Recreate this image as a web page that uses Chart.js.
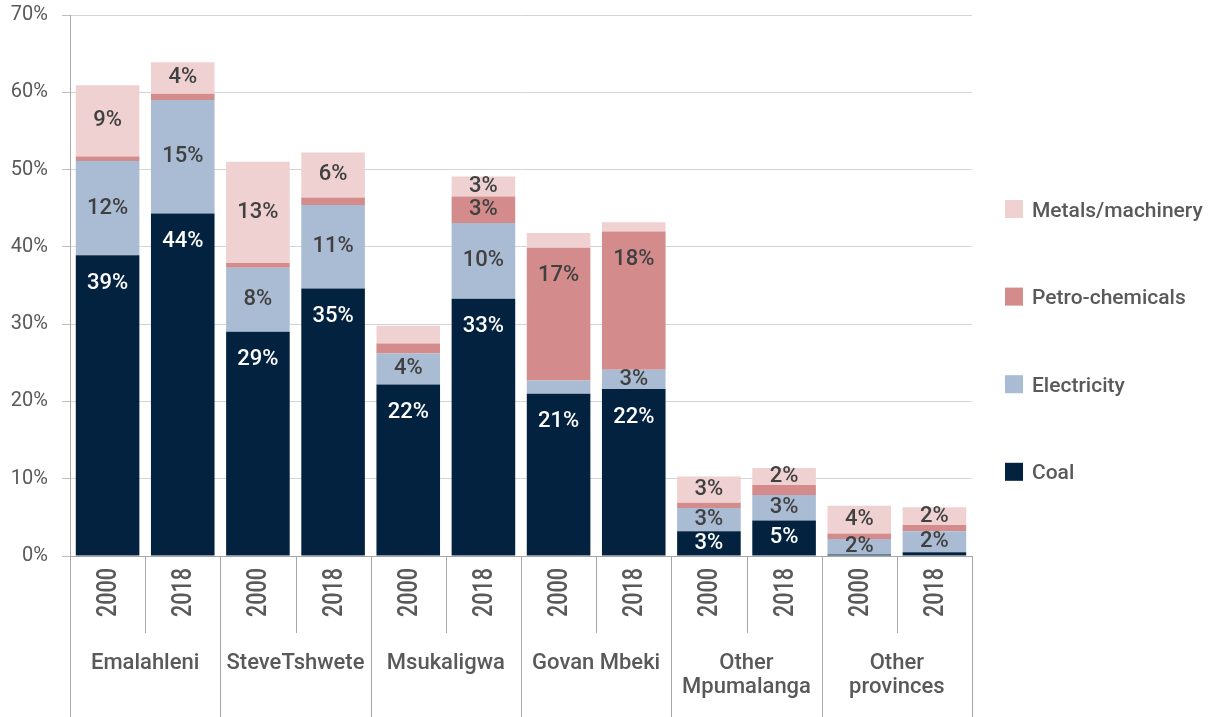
<!DOCTYPE html>
<html>
<head>
<meta charset="utf-8">
<script src="https://cdn.jsdelivr.net/npm/chart.js@4.4.1/dist/chart.umd.min.js"></script>
<style>
  html, body { margin: 0; padding: 0; background: #fff; }
  #wrap { width: 1217px; height: 717px; position: relative; }
</style>
</head>
<body>
<div id="wrap"><canvas id="chart"></canvas></div>
<script>
// categories
const years = ['2000', '2018', '2000', '2018', '2000', '2018', '2000', '2018', '2000', '2018', '2000', '2018'];
const groups = [['Emalahleni'], ['SteveTshwete'], ['Msukaligwa'], ['Govan Mbeki'], ['Other', 'Mpumalanga'], ['Other', 'provinces']];

// series values (% share)
const coal        = [38.9, 44.3, 29.0, 34.6, 22.2, 33.3, 21.0, 21.6, 3.2, 4.6, 0.2, 0.5];
const electricity = [12.2, 14.7,  8.3, 10.8,  4.0,  9.8,  1.7,  2.5, 3.0, 3.3, 2.0, 2.7];
const petro       = [ 0.6,  0.8,  0.6,  1.0,  1.3,  3.4, 17.2, 17.9, 0.7, 1.3, 0.7, 0.8];
const metals      = [ 9.2,  4.1, 13.1,  5.8,  2.3,  2.6,  1.9,  1.2, 3.4, 2.2, 3.6, 2.3];

// value labels as printed on the bars ('' = none)
const coalLabels   = ['39%', '44%', '29%', '35%', '22%', '33%', '21%', '22%', '3%', '5%', '', ''];
const elecLabels   = ['12%', '15%', '8%', '11%', '4%', '10%', '', '3%', '3%', '3%', '2%', '2%'];
const petroLabels  = ['', '', '', '', '', '3%', '17%', '18%', '', '', '', ''];
const metalsLabels = ['9%', '4%', '13%', '6%', '', '3%', '', '', '3%', '2%', '4%', '2%'];

// y axis
const yMin = 0, yMax = 70, yStep = 10;

const FONT = 'Roboto, "Open Sans", sans-serif';
const GRAY = '#595959';
const LINE = '#a6a6a6';

const segmentLabels = {
    id: 'segmentLabels',
    afterDatasetsDraw(chart) {
        const ctx = chart.ctx;
        ctx.save();
        ctx.font = '500 22px ' + FONT;
        ctx.textAlign = 'center';
        ctx.textBaseline = 'middle';
        chart.data.datasets.forEach((ds, i) => {
            const meta = chart.getDatasetMeta(i);
            meta.data.forEach((bar, j) => {
                const txt = ds.valueLabels[j];
                if (!txt) return;
                const h = bar.base - bar.y;
                let y = (bar.y + bar.base) / 2;
                // tall coal / petro segments carry their label near the top
                if (ds.topLabel && h > 80) y = bar.y + 28;
                ctx.fillStyle = ds.labelColor;
                ctx.fillText(txt, bar.x, y);
            });
        });
        ctx.restore();
    }
};

const xAxisDecor = {
    id: 'xAxisDecor',
    afterDraw(chart) {
        const ctx = chart.ctx;
        const xs = chart.scales.x;
        const n = years.length;
        const step = xs.width / n;
        const top = xs.top;
        const H = chart.height;
        ctx.save();

        // separators: short between years, full height between groups
        ctx.strokeStyle = LINE;
        ctx.lineWidth = 1;
        for (let k = 0; k <= n; k++) {
            const x = Math.round(xs.left + k * step) + 0.5;
            ctx.beginPath();
            ctx.moveTo(x, top);
            ctx.lineTo(x, k % 2 === 0 ? H : top + 77);
            ctx.stroke();
        }

        // rotated year labels
        ctx.fillStyle = GRAY;
        ctx.font = '500 27px ' + FONT;
        ctx.textAlign = 'center';
        ctx.textBaseline = 'alphabetic';
        years.forEach((yr, i) => {
            const cx = xs.getPixelForValue(i);
            ctx.save();
            ctx.translate(cx + 8.5, top + 36.5);
            ctx.rotate(-Math.PI / 2);
            ctx.scale(0.8, 1);
            ctx.fillText(yr, 0, 0);
            ctx.restore();
        });

        // group labels
        ctx.font = '500 22px ' + FONT;
        groups.forEach((lines, g) => {
            const cx = (xs.getPixelForValue(2 * g) + xs.getPixelForValue(2 * g + 1)) / 2;
            lines.forEach((t, k) => {
                ctx.fillText(t, cx, top + 113 + k * 24);
            });
        });
        ctx.restore();
    }
};

const sideLegend = {
    id: 'sideLegend',
    afterDraw(chart) {
        const ctx = chart.ctx;
        const items = chart.data.datasets.slice().reverse();
        const x0 = chart.chartArea.right + 33;
        const y0 = 209, gap = 87.6, box = 18;
        ctx.save();
        ctx.font = '500 21px ' + FONT;
        ctx.textAlign = 'left';
        ctx.textBaseline = 'alphabetic';
        items.forEach((ds, k) => {
            const cy = y0 + k * gap;
            ctx.fillStyle = ds.backgroundColor;
            ctx.fillRect(x0, cy - box / 2, box, box);
            ctx.fillStyle = GRAY;
            ctx.fillText(ds.label, x0 + 27, cy + 7.6);
        });
        ctx.restore();
    }
};

const ctx = document.getElementById('chart').getContext('2d');

new Chart(ctx, {
    type: 'bar',
    data: {
        labels: years,
        datasets: [
            { label: 'Coal', data: coal, backgroundColor: '#03223f', valueLabels: coalLabels, labelColor: '#ffffff', topLabel: true },
            { label: 'Electricity', data: electricity, backgroundColor: '#aabbd4', valueLabels: elecLabels, labelColor: '#404040' },
            { label: 'Petro-chemicals', data: petro, backgroundColor: '#d38c8b', valueLabels: petroLabels, labelColor: '#404040', topLabel: true },
            { label: 'Metals/machinery', data: metals, backgroundColor: '#efd1d2', valueLabels: metalsLabels, labelColor: '#404040' }
        ]
    },
    options: {
        responsive: true,
        maintainAspectRatio: false,
        animation: false,
        layout: { padding: { left: 0, right: 245, top: 15, bottom: 0 } },
        datasets: {
            bar: { barPercentage: 0.846, categoryPercentage: 1, borderWidth: 0 }
        },
        plugins: {
            legend: { display: false },
            tooltip: { enabled: false }
        },
        scales: {
            x: {
                stacked: true,
                grid: { display: false },
                border: { display: true, color: LINE, width: 1 },
                ticks: { display: false },
                afterFit: s => { s.height = 161; }
            },
            y: {
                stacked: true,
                min: yMin,
                max: yMax,
                ticks: {
                    stepSize: yStep,
                    color: GRAY,
                    font: { family: FONT, size: 20 },
                    padding: 14,
                    callback: v => v + '%'
                },
                grid: { color: '#d4d4d4', lineWidth: 1, tickLength: 8, tickColor: '#bfbfbf' },
                border: { display: true, color: LINE, width: 1 },
                afterFit: s => {
                    s.width = 70;
                    s.paddingTop = 0;
                    s.paddingBottom = 0;
                }
            }
        }
    },
    plugins: [segmentLabels, xAxisDecor, sideLegend]
});
</script>
</body>
</html>
